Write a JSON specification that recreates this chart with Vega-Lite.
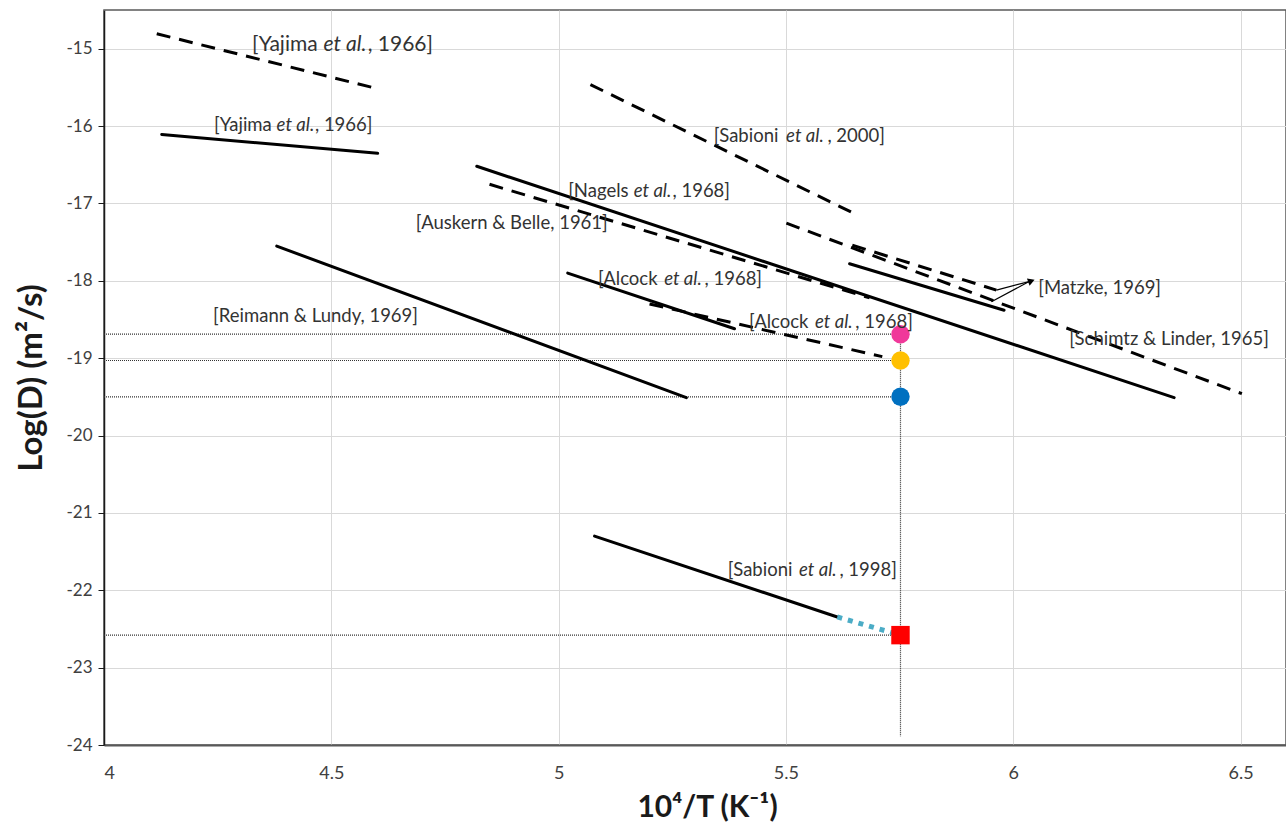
{
  "$schema": "https://vega.github.io/schema/vega-lite/v6.json",
  "width": 1182,
  "height": 735,
  "autosize": {"type": "none"},
  "padding": {"left": 104, "top": 10, "right": 0, "bottom": 81},
  "background": "white",
  "config": {
    "view": {"stroke": "#595959", "strokeWidth": 1.5},
    "font": "Lato"
  },
  "datasets": {
    "segs": [
      {"s": "Yajima1966a", "style": "dashed", "x": 4.116, "y": -14.807, "x2": 4.600, "y2": -15.515},
      {"s": "Yajima1966b", "style": "solid", "x": 4.127, "y": -16.108, "x2": 4.602, "y2": -16.353},
      {"s": "Reimann1969", "style": "solid", "x": 4.380, "y": -17.552, "x2": 5.281, "y2": -19.51},
      {"s": "Sabioni2000", "style": "dashed", "x": 5.070, "y": -15.464, "x2": 5.644, "y2": -17.113},
      {"s": "Nagels1968", "style": "solid", "x": 4.820, "y": -16.52, "x2": 6.354, "y2": -19.51},
      {"s": "Auskern1961", "style": "dashed", "x": 4.848, "y": -16.753, "x2": 5.684, "y2": -18.22},
      {"s": "Alcock1968a", "style": "solid", "x": 5.020, "y": -17.90, "x2": 5.387, "y2": -18.62},
      {"s": "Alcock1968b", "style": "dashed", "x": 5.200, "y": -18.30, "x2": 5.712, "y2": -18.98},
      {"s": "Matzke1969a", "style": "dashed", "x": 5.646, "y": -17.54, "x2": 5.963, "y2": -18.12},
      {"s": "Matzke1969b", "style": "solid", "x": 5.640, "y": -17.78, "x2": 5.980, "y2": -18.38},
      {"s": "Schimtz1965", "style": "dashed", "x": 5.501, "y": -17.255, "x2": 6.503, "y2": -19.459},
      {"s": "Sabioni1998", "style": "solid", "x": 5.079, "y": -21.30, "x2": 5.613, "y2": -22.345},
      {"s": "Sabioni1998ext", "style": "extrap", "x": 5.613, "y": -22.345, "x2": 5.752, "y2": -22.58}
    ],
    "refs": [
      {"x": 4, "x2": 5.752, "y": -18.69, "y2": -18.69},
      {"x": 4, "x2": 5.752, "y": -19.03, "y2": -19.03},
      {"x": 4, "x2": 5.752, "y": -19.50, "y2": -19.50},
      {"x": 4, "x2": 5.752, "y": -22.58, "y2": -22.58},
      {"x": 5.752, "x2": 5.752, "y": -18.69, "y2": -23.89}
    ],
    "arrows": [
      {"x": 5.963, "y": -18.12, "x2": 6.035, "y2": -18.01},
      {"x": 5.952, "y": -18.27, "x2": 6.035, "y2": -18.01}
    ],
    "heads": [
      {"x": 6.040, "y": -18.003}
    ],
    "markers": [
      {"m": "m1", "x": 5.752, "y": -18.69},
      {"m": "m2", "x": 5.752, "y": -19.03},
      {"m": "m3", "x": 5.752, "y": -19.50},
      {"m": "m4", "x": 5.752, "y": -22.58}
    ],
    "labels": [
      {"grp": "big", "part": "pre", "t": "[Yajima", "x": 4.470, "y": -14.948},
      {"grp": "big", "part": "ita", "t": "et al.", "x": 4.530, "y": -14.948},
      {"grp": "big", "part": "suf", "t": ", 1966]", "x": 4.580, "y": -14.948},
      {"grp": "normal", "part": "pre", "t": "[Yajima", "x": 4.369, "y": -15.992},
      {"grp": "normal", "part": "ita", "t": "et al.", "x": 4.421, "y": -15.992},
      {"grp": "normal", "part": "suf", "t": ", 1966]", "x": 4.464, "y": -15.992},
      {"grp": "normal", "part": "full", "t": "[Reimann & Lundy, 1969]", "x": 4.240, "y": -18.454},
      {"grp": "normal", "part": "pre", "t": "[Sabioni", "x": 5.4835, "y": -16.134},
      {"grp": "normal", "part": "ita", "t": "et al.", "x": 5.5418, "y": -16.134},
      {"grp": "normal", "part": "suf", "t": ", 2000]", "x": 5.5912, "y": -16.134},
      {"grp": "normal", "part": "pre", "t": "[Nagels", "x": 5.1538, "y": -16.843},
      {"grp": "normal", "part": "ita", "t": "et al.", "x": 5.2066, "y": -16.843},
      {"grp": "normal", "part": "suf", "t": ", 1968]", "x": 5.2505, "y": -16.843},
      {"grp": "normal", "part": "full", "t": "[Auskern & Belle, 1961]", "x": 4.686, "y": -17.255},
      {"grp": "normal", "part": "pre", "t": "[Alcock", "x": 5.2176, "y": -17.977},
      {"grp": "normal", "part": "ita", "t": "et al.", "x": 5.2736, "y": -17.977},
      {"grp": "normal", "part": "suf", "t": ", 1968]", "x": 5.3209, "y": -17.977},
      {"grp": "normal", "part": "pre", "t": "[Alcock", "x": 5.5495, "y": -18.531},
      {"grp": "normal", "part": "ita", "t": "et al.", "x": 5.6055, "y": -18.531},
      {"grp": "normal", "part": "suf", "t": ", 1968]", "x": 5.6527, "y": -18.531},
      {"grp": "normal", "part": "full", "t": "[Matzke, 1969]", "x": 6.055, "y": -18.093},
      {"grp": "normal", "part": "full", "t": "[Schimtz & Linder, 1965]", "x": 6.123, "y": -18.750},
      {"grp": "normal", "part": "pre", "t": "[Sabioni", "x": 5.5143, "y": -21.740},
      {"grp": "normal", "part": "ita", "t": "et al.", "x": 5.5703, "y": -21.740},
      {"grp": "normal", "part": "suf", "t": ", 1998]", "x": 5.6176, "y": -21.740}
    ]
  },
  "encoding": {
    "x": {
      "field": "x", "type": "quantitative",
      "scale": {"domain": [4, 6.6], "nice": false, "zero": false},
      "axis": {
        "title": "10⁴/T (K⁻¹)",
        "values": [4, 4.5, 5, 5.5, 6, 6.5],
        "format": "~g",
        "grid": true, "gridColor": "#d9d9d9", "gridWidth": 1,
        "domainColor": "#595959", "domainWidth": 2,
        "ticks": false, "tickSize": 0,
        "labelFontSize": 18, "labelColor": "#404040", "labelPadding": 19, "labelFont": "Lato",
        "titleFontSize": 30, "titleFontWeight": "bold", "titleColor": "#1a1a1a", "titleFont": "Lato", "titlePadding": 10,
        "titleX": 603
      }
    },
    "y": {
      "field": "y", "type": "quantitative",
      "scale": {"domain": [-24, -14.5], "nice": false, "zero": false},
      "axis": {
        "title": "Log(D) (m²/s)",
        "values": [-24, -23, -22, -21, -20, -19, -18, -17, -16, -15],
        "labelExpr": "replace(datum.label, '−', '-')",
        "grid": true, "gridColor": "#d9d9d9", "gridWidth": 1,
        "domainColor": "#1a1a1a", "domainWidth": 1.5,
        "ticks": true, "tickSize": 6, "tickColor": "#1a1a1a",
        "labelFontSize": 17, "labelColor": "#404040", "labelPadding": 6, "labelFont": "Lato",
        "titleFontSize": 33, "titleFontWeight": "bold", "titleColor": "#1a1a1a", "titleFont": "Lato", "titlePadding": 17
      }
    }
  },
  "layer": [
    {
      "data": {"name": "refs"},
      "mark": {"type": "rule", "color": "#333333", "strokeWidth": 1.2, "strokeDash": [1, 1]},
      "encoding": {"x2": {"field": "x2"}, "y2": {"field": "y2"}}
    },
    {
      "data": {"name": "segs"},
      "transform": [{"filter": "datum.style === 'solid'"}],
      "mark": {"type": "rule", "color": "#000000", "strokeWidth": 3, "strokeCap": "round"},
      "encoding": {"x2": {"field": "x2"}, "y2": {"field": "y2"}}
    },
    {
      "data": {"name": "segs"},
      "transform": [{"filter": "datum.style === 'dashed'"}],
      "mark": {"type": "rule", "color": "#000000", "strokeWidth": 3, "strokeDash": [14, 9]},
      "encoding": {"x2": {"field": "x2"}, "y2": {"field": "y2"}}
    },
    {
      "data": {"name": "segs"},
      "transform": [{"filter": "datum.style === 'extrap'"}],
      "mark": {"type": "rule", "color": "#4BACC6", "strokeWidth": 5, "strokeDash": [5, 6]},
      "encoding": {"x2": {"field": "x2"}, "y2": {"field": "y2"}}
    },
    {
      "data": {"name": "arrows"},
      "mark": {"type": "rule", "color": "#000000", "strokeWidth": 1.2},
      "encoding": {"x2": {"field": "x2"}, "y2": {"field": "y2"}}
    },
    {
      "data": {"name": "heads"},
      "mark": {"type": "point", "shape": "triangle-right", "filled": true, "color": "#000000", "size": 60, "angle": -20, "opacity": 1}
    },
    {
      "data": {"name": "markers"},
      "mark": {"type": "point", "filled": true, "opacity": 1},
      "encoding": {
        "color": {"field": "m", "type": "nominal", "scale": {"domain": ["m1", "m2", "m3", "m4"], "range": ["#F0399A", "#FFC000", "#0070C0", "#FF0000"]}, "legend": null},
        "shape": {"field": "m", "type": "nominal", "scale": {"domain": ["m1", "m2", "m3", "m4"], "range": ["circle", "circle", "circle", "square"]}, "legend": null},
        "size": {"field": "m", "type": "nominal", "scale": {"domain": ["m1", "m2", "m3", "m4"], "range": [340, 340, 340, 500]}, "legend": null}
      }
    },
    {
      "data": {"name": "labels"},
      "transform": [{"filter": "datum.grp === 'normal' && (datum.part === 'full' || datum.part === 'suf')"}],
      "mark": {"type": "text", "align": "left", "baseline": "middle", "color": "#333333", "font": "Lato", "fontSize": 18.5},
      "encoding": {"text": {"field": "t"}}
    },
    {
      "data": {"name": "labels"},
      "transform": [{"filter": "datum.grp === 'normal' && datum.part === 'pre'"}],
      "mark": {"type": "text", "align": "right", "baseline": "middle", "color": "#333333", "font": "Lato", "fontSize": 18.5},
      "encoding": {"text": {"field": "t"}}
    },
    {
      "data": {"name": "labels"},
      "transform": [{"filter": "datum.grp === 'normal' && datum.part === 'ita'"}],
      "mark": {"type": "text", "align": "center", "baseline": "middle", "color": "#333333", "font": "Lato", "fontSize": 18.5, "fontStyle": "italic"},
      "encoding": {"text": {"field": "t"}}
    },
    {
      "data": {"name": "labels"},
      "transform": [{"filter": "datum.grp === 'big' && datum.part === 'suf'"}],
      "mark": {"type": "text", "align": "left", "baseline": "middle", "color": "#333333", "font": "Lato", "fontSize": 21},
      "encoding": {"text": {"field": "t"}}
    },
    {
      "data": {"name": "labels"},
      "transform": [{"filter": "datum.grp === 'big' && datum.part === 'pre'"}],
      "mark": {"type": "text", "align": "right", "baseline": "middle", "color": "#333333", "font": "Lato", "fontSize": 21},
      "encoding": {"text": {"field": "t"}}
    },
    {
      "data": {"name": "labels"},
      "transform": [{"filter": "datum.grp === 'big' && datum.part === 'ita'"}],
      "mark": {"type": "text", "align": "center", "baseline": "middle", "color": "#333333", "font": "Lato", "fontSize": 21, "fontStyle": "italic"},
      "encoding": {"text": {"field": "t"}}
    }
  ]
}
